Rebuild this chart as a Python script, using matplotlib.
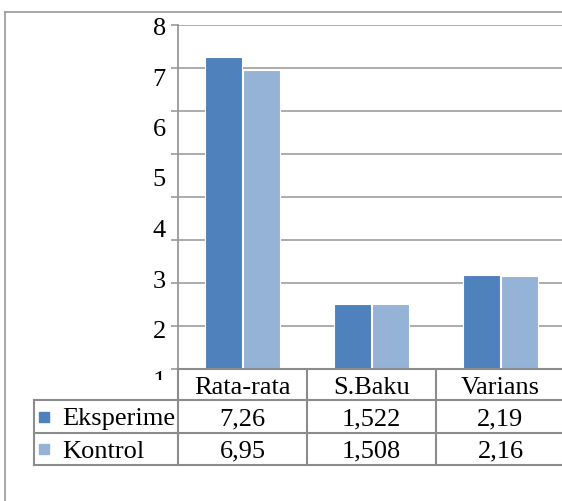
import matplotlib
matplotlib.use("Agg")
import matplotlib.pyplot as plt
from matplotlib.lines import Line2D
from matplotlib.patches import Rectangle
import numpy as np

categories = ["Rata-rata", "S.Baku", "Varians"]
series_names = ["Eksperime", "Kontrol"]
eksperimen = [7.26, 1.522, 2.19]
kontrol = [6.95, 1.508, 2.16]
colors = ["#4f81bd", "#95b3d7"]
ytick_labels = ["1", "2", "3", "4", "5", "6", "7", "8"]

W, H = 562, 501
fig = plt.figure(figsize=(W / 100, H / 100), dpi=100)
plt.rcParams['font.family'] = ['Liberation Serif', 'DejaVu Serif']
FS = 19

# pixel geometry of the plot area
x_left, x_right = 178, 565
y_top, y_base = 25, 369
ax = fig.add_axes([x_left / W, 1 - y_base / H, (x_right - x_left) / W, (y_base - y_top) / H])

def fy(py):
    """pixel row -> axes fraction"""
    return (y_base - py) / (y_base - y_top)

n = len(categories)
x = np.arange(n)
series = [eksperimen, kontrol]
offsets = [-0.145, 0.145]
for vals, off, c in zip(series, offsets, colors):
    ax.bar(x + off, vals, width=0.285, color=c, edgecolor="white", linewidth=0.8, zorder=3)

ax.set_xlim(-0.5, n - 0.5)
ax.set_ylim(0, 8)
ax.set_yticks(np.arange(0, 9))
ax.set_yticklabels([])
ax.set_xticks([])
ax.tick_params(axis="y", direction="out", length=5, width=1.2, color="#999999")
ax.grid(axis="y", color="#a6a6a6", linewidth=1.3, zorder=1)
for s in ["top", "right", "bottom"]:
    ax.spines[s].set_visible(False)
ax.spines["left"].set_color("#999999")
ax.spines["left"].set_linewidth(1.3)

# y tick labels (as rendered in the reference, with their own spacing)
clip_rect = Rectangle((0, 1 - 380 / H), 1, 380 / H, transform=fig.transFigure)
for lab in ytick_labels:
    k = int(lab)
    py = 29 + (8 - k) * 50.5
    t = ax.text((166 - x_left) / (x_right - x_left), fy(py), lab, transform=ax.transAxes,
                ha="right", va="center", fontsize=FS, color="#000000")
    t.set_clip_path(clip_rect)
    t.set_clip_on(True)

# data table
line_kw = dict(color="#8c8c8c", linewidth=1.5, clip_on=False, transform=ax.get_xaxis_transform(), zorder=4)
tab_left = -0.5 - (178 - 34) / 129
rows_px = [369, 400, 433, 465]
ax.plot([-0.5, n - 0.5 + 0.05], [fy(369)] * 2, **line_kw)
for py in rows_px[1:]:
    ax.plot([tab_left, n - 0.5 + 0.05], [fy(py)] * 2, **line_kw)
ax.plot([tab_left, tab_left], [fy(400), fy(465)], **line_kw)
ax.plot([-0.5, -0.5], [fy(369), fy(465)], **line_kw)
for b in np.arange(n) + 0.5:
    ax.plot([b, b], [fy(369), fy(465)], **line_kw)

trans = ax.get_xaxis_transform()
hdr_y = fy((369 + 400) / 2 + 3)
for xi, cat in zip(x, categories):
    ax.text(xi, hdr_y, cat, transform=trans, ha="center", va="center", fontsize=FS, clip_on=False)

row_centers = [(400 + 433) / 2, (433 + 465) / 2]
key_x = -0.5 - (178 - 44) / 129
name_x = -0.5 - (178 - 62) / 129
for name, vals, c, rpx in zip(series_names, series, colors, row_centers):
    ax.plot([key_x], [fy(rpx)], marker="s", markersize=7, color=c, transform=trans, clip_on=False,
            linestyle="none")
    ty = fy(rpx + 2.5)
    ax.text(name_x, ty, name, transform=trans, ha="left", va="center", fontsize=FS, clip_on=False)
    for xi, v in zip(x, vals):
        ax.text(xi, ty, str(v).replace(".", ","), transform=trans, ha="center", va="center",
                fontsize=FS, clip_on=False)

# chart area border
fig.add_artist(Line2D([5 / W, 5 / W], [0, 1 - 12 / H], color="#a0a0a0", linewidth=1.3))
fig.add_artist(Line2D([5 / W, 1], [1 - 12 / H, 1 - 12 / H], color="#a0a0a0", linewidth=1.3))

fig.savefig("out.png", dpi=100)
